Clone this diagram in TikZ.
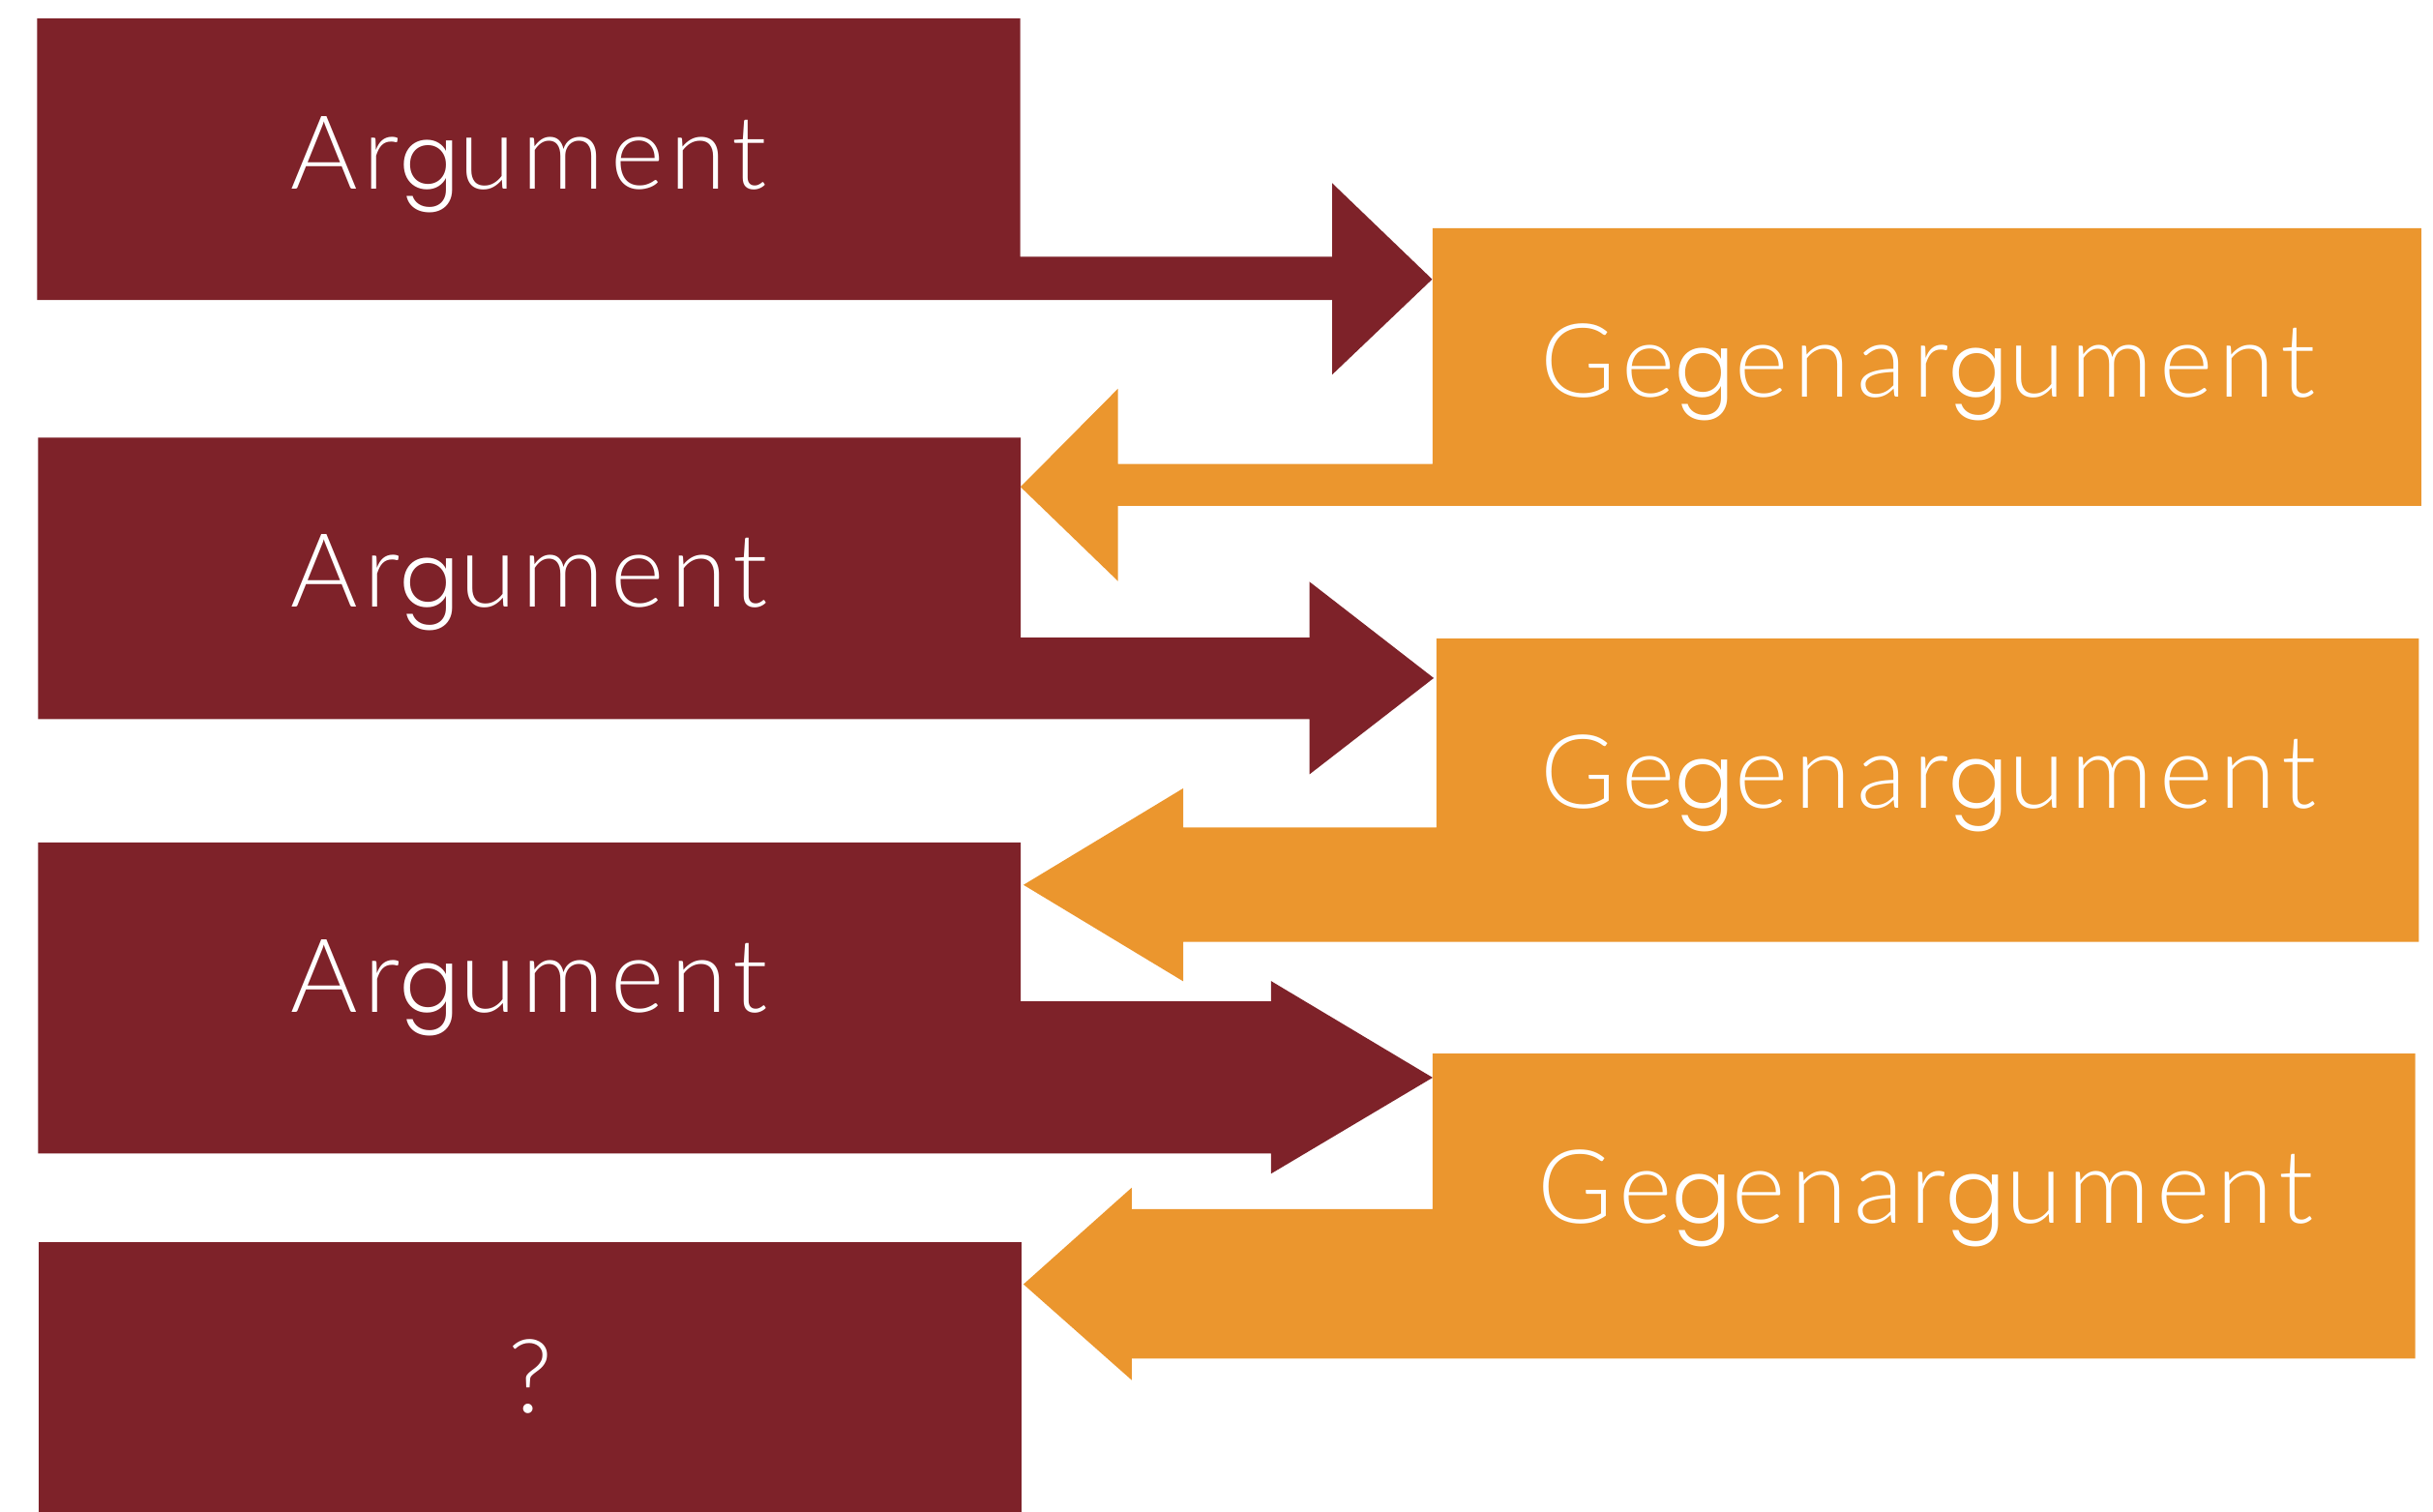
\documentclass[tikz,border=0pt]{standalone}
\usepackage{fontspec}
\newfontfamily\labelfont[LetterSpace=6]{Lato Light}
\newfontfamily\gfont[LetterSpace=6]{Poppins Light}
\newcommand{\gglyph}{{\gfont\fontsize{16.2}{20}\selectfont g}}
\definecolor{argred}{RGB}{126,34,41}
\definecolor{gegenorange}{RGB}{235,150,46}
\begin{document}
\begin{tikzpicture}[x=0.1mm,y=-0.1mm,
  argshape/.style={fill=argred,draw=none},
  gegenshape/.style={fill=gegenorange,draw=none},
  lbl/.style={anchor=base,text=white,inner sep=0pt,font=\labelfont\fontsize{18.8}{22}\selectfont}]
\useasboundingbox (0,0) rectangle (1568,974.4);
% Argument shapes (box + arrow to the right)
\fill[argshape] (24,12) -- (657.5,12) -- (657.5,165.5) -- (858.5,165.5) -- (858.5,118) -- (923,180) -- (858.5,241.5) -- (858.5,193.3) -- (24,193.3) -- cycle;
\fill[argshape] (24.5,282) -- (657.8,282) -- (657.8,411) -- (844,411) -- (844,375) -- (924,437) -- (844,499) -- (844,463.5) -- (24.5,463.5) -- cycle;
\fill[argshape] (24.5,543) -- (657.8,543) -- (657.8,645.3) -- (819.2,645.3) -- (819.2,632.3) -- (923.3,694.5) -- (819.2,756.4) -- (819.2,743.4) -- (24.5,743.4) -- cycle;
\fill[argshape] (24.9,800.3) rectangle (658.2,974.4);
% Gegenargument shapes (box + arrow to the left)
\fill[gegenshape] (923.3,147) -- (1560.5,147) -- (1560.5,326) -- (720.5,326) -- (720.5,374.5) -- (657.7,313.8) -- (720.5,250.5) -- (720.5,299) -- (923.3,299) -- cycle;
\fill[gegenshape] (925.8,411.5) -- (1558.9,411.5) -- (1558.9,607) -- (762.5,607) -- (762.5,632.4) -- (659.6,570.3) -- (762.5,508.1) -- (762.5,533.3) -- (925.8,533.3) -- cycle;
\fill[gegenshape] (923.3,679) -- (1556.5,679) -- (1556.5,875.5) -- (729.4,875.5) -- (729.4,889.5) -- (659.6,827.7) -- (729.4,765.4) -- (729.4,779.3) -- (923.3,779.3) -- cycle;
% Labels
\node[lbl] (a1) at (340.8,122.2) {Ar\gglyph ument};
\node[lbl] (a2) at (341,391.3) {Ar\gglyph ument};
\node[lbl] (a3) at (341,652.7) {Ar\gglyph ument};
\node[lbl] (q) at (342,910.7) {?};
\node[lbl] (g1) at (1242.8,256.2) {Ge\gglyph enar\gglyph ument};
\node[lbl] (g2) at (1243,521) {Ge\gglyph enar\gglyph ument};
\node[lbl] (g3) at (1241,788.2) {Ge\gglyph enar\gglyph ument};
\end{tikzpicture}
\end{document}
